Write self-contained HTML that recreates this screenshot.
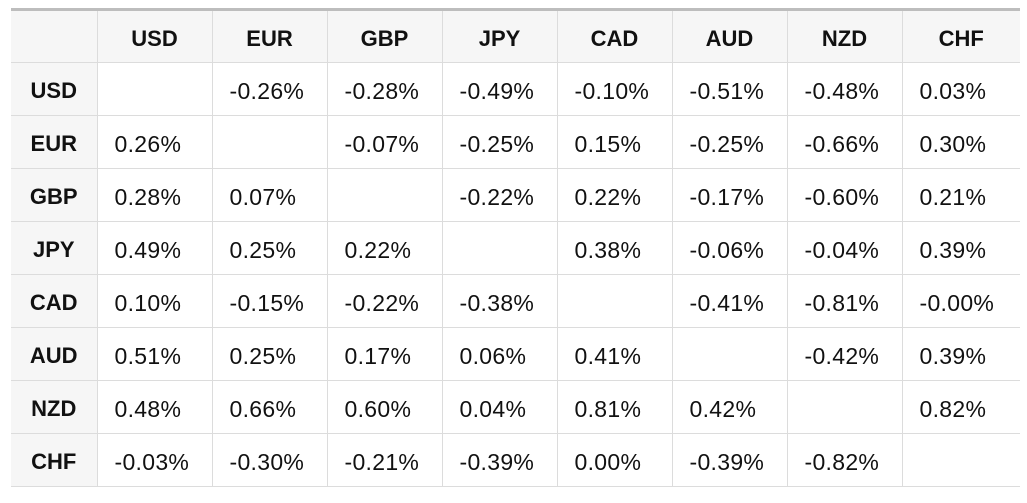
<!DOCTYPE html>
<html><head><meta charset="utf-8"><style>
body{margin:0;background:#fff;width:1027px;height:503px;overflow:hidden;font-family:"Liberation Sans",sans-serif;}
table{position:absolute;left:11px;top:8px;border-collapse:collapse;border-top:3px solid #bdbdbd;table-layout:fixed;width:1009px;}
td,th{height:53px;padding:4px 0 0 0;box-sizing:border-box;border-bottom:1px solid #dcdcdc;border-left:1px solid #dcdcdc;color:#111;}
th{font-weight:bold;text-align:center;background:#f6f6f6;font-size:22px;}
tr>*:first-child{border-left:none;}
td{text-align:left;padding-left:17px;font-size:23px;letter-spacing:0.3px;}
</style></head><body>
<table>
<colgroup><col style="width:86px"><col style="width:115px"><col style="width:115px"><col style="width:115px"><col style="width:115px"><col style="width:115px"><col style="width:115px"><col style="width:115px"><col style="width:118px"></colgroup>
<tbody id="tb"></tbody>
</table>
<script>
const currencies=["USD","EUR","GBP","JPY","CAD","AUD","NZD","CHF"];
const values=[
["","-0.26%","-0.28%","-0.49%","-0.10%","-0.51%","-0.48%","0.03%"],
["0.26%","","-0.07%","-0.25%","0.15%","-0.25%","-0.66%","0.30%"],
["0.28%","0.07%","","-0.22%","0.22%","-0.17%","-0.60%","0.21%"],
["0.49%","0.25%","0.22%","","0.38%","-0.06%","-0.04%","0.39%"],
["0.10%","-0.15%","-0.22%","-0.38%","","-0.41%","-0.81%","-0.00%"],
["0.51%","0.25%","0.17%","0.06%","0.41%","","-0.42%","0.39%"],
["0.48%","0.66%","0.60%","0.04%","0.81%","0.42%","","0.82%"],
["-0.03%","-0.30%","-0.21%","-0.39%","0.00%","-0.39%","-0.82%",""]];
const tb=document.getElementById('tb');
let hr=document.createElement('tr');


let c0=document.createElement('th');


hr.appendChild(c0);
currencies.forEach(c=>{const th=document.createElement('th');th.textContent=c;


hr.appendChild(th);});
tb.appendChild(hr);
currencies.forEach((c,i)=>{const tr=document.createElement('tr');


const th=document.createElement('th');th.textContent=c;


tr.appendChild(th);
values[i].forEach((v,j)=>{const td=document.createElement('td');td.textContent=v;


tr.appendChild(td);});
tb.appendChild(tr);});
</script>
</body></html>
